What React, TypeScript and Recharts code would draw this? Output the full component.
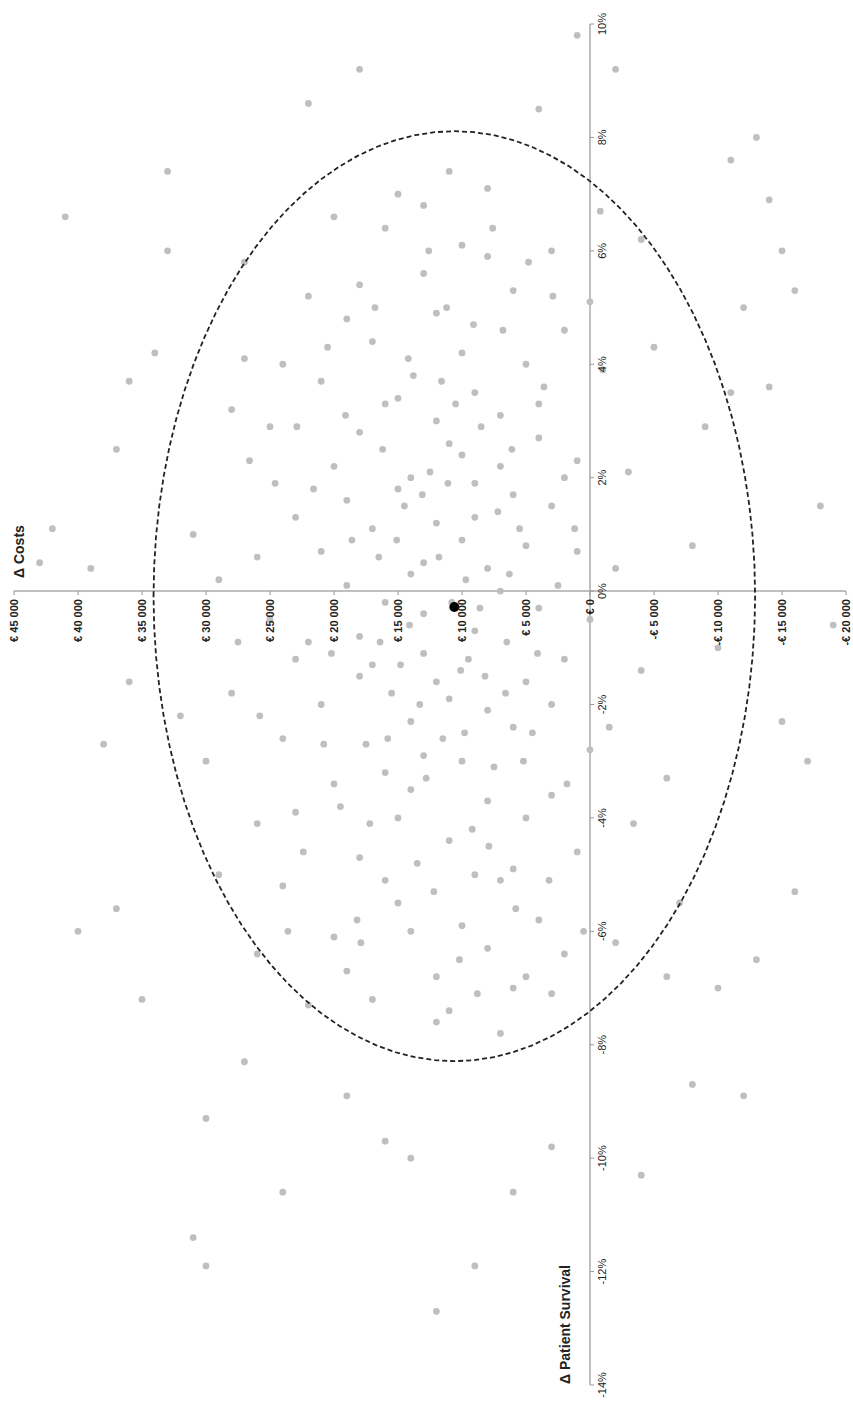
import { ScatterChart, Scatter, XAxis, YAxis, ReferenceLine } from "recharts";

// costs in k€, survival difference in %
const points: [number, number][] = [
  [12,1.2],[8,-2.1],[15,3.4],[5,0.8],[18,-1.5],[10,4.2],[3,-3.6],[20,2.2],[7,-5.1],[13,-0.4],
  [9,1.9],[16,-3.2],[4,2.7],[22,-0.9],[11,-4.4],[6,5.3],[14,0.3],[2,-1.2],[19,4.8],[8,-6.3],
  [17,1.1],[1,2.3],[24,-2.6],[12,-6.8],[10,6.1],[5,-4.0],[15,-5.5],[21,3.7],[3,1.5],[9,-0.7],
  [26,0.6],[13,5.6],[7,3.1],[0,-2.8],[18,-4.7],[11,2.6],[-2,0.4],[16,6.4],[6,-7.0],[23,-3.9],
  [14,-2.3],[4,-5.8],[20,-6.1],[8,7.1],[12,3.0],[-1,3.9],[25,2.9],[17,-7.2],[2,4.6],[10,-3.0],
  [28,-1.8],[15,1.8],[5,-1.6],[19,0.1],[9,-5.0],[27,4.1],[1,-4.6],[13,-1.1],[22,5.2],[7,0.0],
  [-4,-1.4],[11,7.4],[16,-0.2],[3,6.0],[24,-5.2],[6,1.7],[18,2.8],[14,-6.0],[-3,2.1],[21,-2.0],
  [10,0.9],[8,-3.7],[29,0.2],[12,-7.6],[4,-0.3],[17,4.4],[0,5.1],[26,-4.1],[9,3.5],[15,-4.0],
  [-6,-3.3],[20,6.6],[5,4.0],[13,-2.9],[2,-6.4],[23,1.3],[11,-1.9],[30,-3.0],[7,-7.8],[19,-6.7],
  [-5,4.3],[14,2.0],[6,-2.4],[25,-0.5],[16,3.3],[1,0.7],[10,-5.9],[28,3.2],[3,-7.1],[18,-0.8],
  [-8,0.8],[12,4.9],[8,5.9],[31,1.0],[-7,-5.5],[22,-7.3],[15,7.0],[4,3.3],[20,-3.4],[-9,2.9],
  [13,0.5],[9,1.3],[32,-2.2],[6,-4.9],[17,-1.3],[-2,-6.2],[27,5.8],[11,-7.4],[2,2.0],[24,4.0],
  [-10,-1.0],[14,-3.5],[7,2.2],[19,1.6],[-4,6.2],[26,-6.4],[10,2.4],[5,-6.8],[21,0.7],[16,-5.1],
  [-11,3.5],[12,-1.6],[3,-2.0],[29,-5.0],[8,0.4],[18,5.4],[0,-0.5],[23,-1.2],[13,6.8],[-6,-6.8],
  [11.5,-2.6],[9.5,-1.2],[14.5,1.5],[6.5,-0.9],[16.5,0.6],[7.5,-3.1],[12.5,2.1],[4.5,-2.5],[17.5,-2.7],[10.5,3.3],
  [13.5,-4.8],[8.5,2.9],[5.5,1.1],[15.5,-1.8],[2.5,0.1],[19.5,-3.8],[11.2,5.0],[6.8,4.6],[20.5,4.3],[9.2,-4.2],
  [14.2,4.1],[10.8,-0.2],[7.2,1.4],[12.8,-3.3],[16.2,2.5],[5.2,-3.0],[18.6,0.9],[9.8,-2.5],[13.1,1.7],[8.2,-1.5],
  [15.8,-2.6],[11.8,0.6],[6.1,2.5],[17.2,-4.1],[4.1,-1.1],[20.2,-1.1],[12.2,-5.3],[9.1,4.7],[14.8,-1.3],[7.9,-4.5],
  [3.6,3.6],[21.6,1.8],[10.2,-6.5],[16.8,5.0],[5.8,-5.6],[18.2,-5.8],[13.8,3.8],[8.8,-7.1],[22.4,-4.6],[1.8,-3.4],
  [11.1,1.9],[15.1,0.9],[6.6,-1.8],[19.1,3.1],[2.9,5.2],[24.6,1.9],[12.6,6.0],[7.6,6.4],[17.9,-6.2],[4.8,5.8],
  [10.1,-1.4],[14.1,-0.6],[8.6,-0.3],[13.3,-2.0],[9.7,0.2],[16.4,-0.9],[11.6,3.7],[6.3,0.3],[20.8,-2.7],[3.2,-5.1],
  [25.8,-2.2],[1.2,1.1],[-1.5,-2.4],[22.9,2.9],[-3.4,-4.1],[27.5,-0.9],[0.5,-6.0],[23.6,-6.0],[-0.8,6.7],[26.6,2.3],
  [36,3.7],[38,-2.7],[41,6.6],[37,-5.6],[40,-6.0],[33,7.4],[35,-7.2],[30,-9.3],[31,-11.4],[30,-11.9],
  [24,-10.6],[19,-8.9],[22,8.6],[18,9.2],[14,-10.0],[12,-12.7],[6,-10.6],[4,8.5],[1,9.8],[-2,9.2],
  [-13,8.0],[-14,6.9],[-16,5.3],[-15,6.0],[-14,3.6],[-16,-5.3],[-15,-2.3],[-17,-3.0],[-12,-8.9],[-13,-6.5],
  [-4,-10.3],[3,-9.8],[42,1.1],[43,0.5],[39,0.4],[36,-1.6],[-19,-0.6],[-18,1.5],[9,-11.9],[-10,-7.0],
  [34,4.2],[37,2.5],[-12,5.0],[-8,-8.7],[27,-8.3],[33,6.0],[-11,7.6],[16,-9.7],
];
const meanPoint = [{ cost: 10.6, surv: -0.28 }];

const costTicks = [45, 40, 35, 30, 25, 20, 15, 10, 5, 0, -5, -10, -15, -20];
const survTicks = [10, 8, 6, 4, 2, 0, -2, -4, -6, -8, -10, -12, -14];

// dashed confidence ellipse: centre and semi-axes
const ELLIPSE = { cost: 10.6, surv: -0.09, a: 23.5, b: 8.2, steps: 96 };
const ellipse = Array.from({ length: ELLIPSE.steps + 1 }, (_, i) => {
  const t = (i / ELLIPSE.steps) * Math.PI * 2;
  return { cost: ELLIPSE.cost + ELLIPSE.a * Math.cos(t), surv: ELLIPSE.surv + ELLIPSE.b * Math.sin(t) };
});

const data = points.map(([cost, surv]) => ({ cost, surv }));

const W = 853, H = 1405;
const M = { top: 24, right: 7, left: 13, bottom: 19 };
const PW = W - 14 - M.right, PH = H - M.top - 20;
const zeroY = M.top + (10 / 24) * PH;
const zeroX = 14 + (45 / 65) * PW;

const FONT = "Liberation Sans, Arial, sans-serif";
const fmtCost = (v: number) => (v < 0 ? "-€ " : "€ ") + (v === 0 ? "0" : `${Math.abs(v)} 000`);

const CostTick = ({ x, payload }: any) => (
  <g>
    <line x1={x} x2={x} y1={zeroY} y2={zeroY + 4} stroke="#999" />
    <text x={x + 4} y={zeroY + 8} transform={`rotate(-90 ${x + 4} ${zeroY + 8})`} textAnchor="end" fontSize={11} fontWeight={700} fontFamily={FONT} fill="#222">
      {fmtCost(payload.value)}
    </text>
  </g>
);

const SurvTick = ({ y, payload }: any) => (
  <g>
    <line x1={zeroX} x2={zeroX + 4} y1={y} y2={y} stroke="#999" />
    <text x={zeroX + 16} y={y} transform={`rotate(-90 ${zeroX + 16} ${y})`} textAnchor="middle" fontSize={11} fontFamily={FONT} fill="#222">
      {`${payload.value}%`}
    </text>
  </g>
);

export default function App() {
  return (
    <div style={{ position: "absolute", left: 0, top: 0, background: "#fff" }}>
      <ScatterChart width={W} height={H} margin={M}>
        <XAxis type="number" dataKey="cost" domain={[-20, 45]} reversed ticks={costTicks} interval={0} axisLine={false} tickLine={false} height={1} tick={<CostTick />} allowDataOverflow />
        <YAxis type="number" dataKey="surv" domain={[-14, 10]} ticks={survTicks} interval={0} axisLine={false} tickLine={false} width={1} tick={<SurvTick />} allowDataOverflow />
        <ReferenceLine y={0} stroke="#aaa" strokeWidth={1.5} />
        <ReferenceLine x={0} stroke="#aaa" strokeWidth={1.5} />
        <Scatter data={data} fill="#bdbdbd" isAnimationActive={false} shape={(p: any) => <circle cx={p.cx} cy={p.cy} r={3.4} fill="#bfbfbf" />} />
        <Scatter data={ellipse} isAnimationActive={false} line={{ stroke: "#222", strokeWidth: 1.8, strokeDasharray: "5 3" }} shape={() => <g />} />
        <Scatter data={meanPoint} isAnimationActive={false} shape={(p: any) => <circle cx={p.cx} cy={p.cy} r={5} fill="#000" />} />
      </ScatterChart>
      <svg width={W} height={H} style={{ position: "absolute", left: 0, top: 0, pointerEvents: "none" }}>
        <text x={24} y={578} transform="rotate(-90 24 578)" fontSize={14} fontWeight={700} fontFamily={FONT} fill="#222">Δ Costs</text>
        <text x={570} y={1384} transform="rotate(-90 570 1384)" fontSize={14} fontWeight={700} fontFamily={FONT} fill="#222">Δ  Patient Survival</text>
      </svg>
    </div>
  );
}
